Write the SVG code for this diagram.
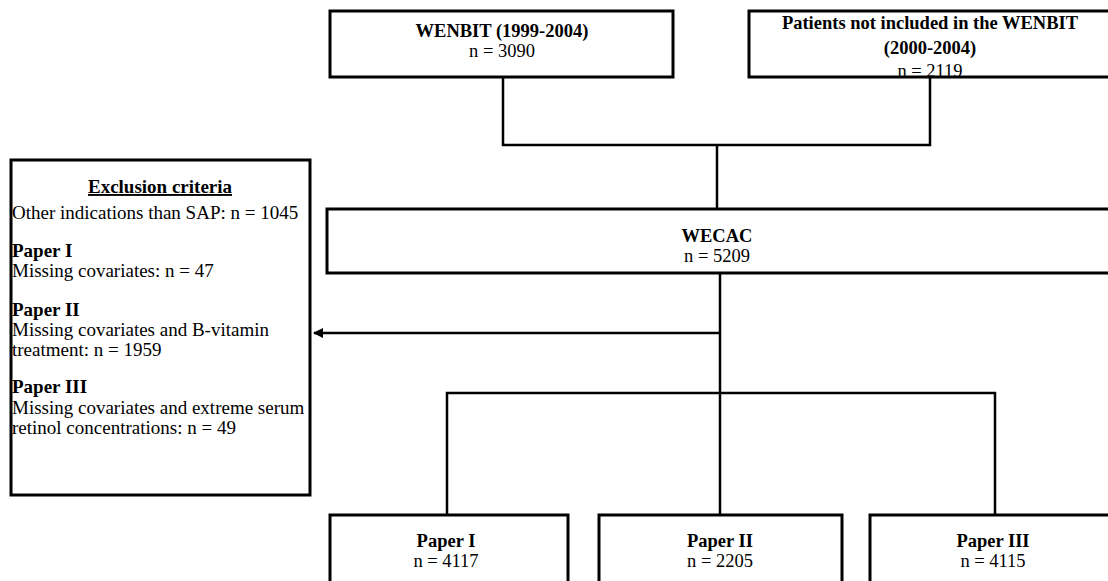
<svg xmlns="http://www.w3.org/2000/svg" width="1108" height="581" viewBox="0 0 1108 581">
<style>
.box{fill:#fff;stroke:#000;stroke-width:3}
.ln{fill:none;stroke:#000;stroke-width:2.5}
text{font-family:"Liberation Serif","Times New Roman",serif;font-size:18.5px;fill:#000}
.b{font-weight:bold}
.c{text-anchor:middle}
.ex{font-size:19px}
</style>
<defs>
<marker id="ah" markerWidth="10" markerHeight="10" refX="9" refY="5" orient="auto" markerUnits="userSpaceOnUse">
<path d="M0,0 L10,5 L0,10 z" fill="#000"/>
</marker>
</defs>
<g id="connectors">
<path class="ln" d="M503,77 V145 H930 V77"/>
<path class="ln" d="M717,145 V209"/>
<path class="ln" d="M720,273 V393"/>
<path class="ln" d="M720,333 H314" marker-end="url(#ah)"/>
<path class="ln" d="M447,515 V393 H995 V515"/>
<path class="ln" d="M720,393 V515"/>
</g>
<g id="wenbit">
<rect class="box" x="330" y="11" width="343" height="66"/>
<text class="c b" x="502" y="37">WENBIT (1999-2004)</text>
<text class="c" x="502" y="57">n = 3090</text>
</g>
<g id="not-included">
<rect class="box" x="749" y="11" width="362" height="66"/>
<text class="c b" x="930" y="29">Patients not included in the WENBIT</text>
<text class="c b" x="930" y="54">(2000-2004)</text>
<text class="c" x="930" y="77">n = 2119</text>
</g>
<g id="wecac">
<rect class="box" x="327" y="209" width="785" height="64"/>
<text class="c b" x="717" y="242">WECAC</text>
<text class="c" x="717" y="262">n = 5209</text>
</g>
<g id="exclusion" class="ex">
<rect class="box" x="11" y="160" width="299" height="335"/>
<text class="c b ex" x="160" y="193" text-decoration="underline">Exclusion criteria</text>
<text class="ex" x="12" y="219">Other indications than SAP: n = 1045</text>
<text class="b ex" x="12" y="257">Paper I</text>
<text class="ex" x="12" y="277">Missing covariates: n = 47</text>
<text class="b ex" x="12" y="316">Paper II</text>
<text class="ex" x="12" y="336">Missing covariates and B-vitamin</text>
<text class="ex" x="12" y="356">treatment: n = 1959</text>
<text class="b ex" x="12" y="393">Paper III</text>
<text class="ex" x="12" y="414">Missing covariates and extreme serum</text>
<text class="ex" x="12" y="434">retinol concentrations: n = 49</text>
</g>
<g id="paper1">
<rect class="box" x="330" y="515" width="238" height="70"/>
<text class="c b" x="446" y="547">Paper I</text>
<text class="c" x="446" y="567">n = 4117</text>
</g>
<g id="paper2">
<rect class="box" x="599" y="515" width="243" height="70"/>
<text class="c b" x="720" y="547">Paper II</text>
<text class="c" x="720" y="567">n = 2205</text>
</g>
<g id="paper3">
<rect class="box" x="870" y="515" width="242" height="70"/>
<text class="c b" x="993" y="547">Paper III</text>
<text class="c" x="993" y="567">n = 4115</text>
</g>
</svg>
